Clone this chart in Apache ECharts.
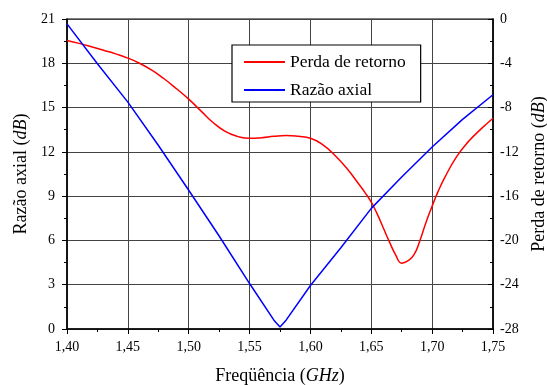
<!DOCTYPE html>
<html>
<head>
<meta charset="utf-8">
<script src="https://cdn.jsdelivr.net/npm/echarts@6/dist/echarts.min.js"></script>
<style>
html,body{margin:0;padding:0;background:#fff;}
#chart{width:547px;height:385px;}
</style>
</head>
<body>
<div id="chart"></div>
<script>
// Axial ratio (left axis, dB)
var freqAxial = [1.40, 1.425, 1.45, 1.475, 1.50, 1.525, 1.55, 1.57, 1.575, 1.58, 1.60, 1.625, 1.65, 1.675, 1.70, 1.725, 1.75];
var axialRatio = [20.67, 17.97, 15.37, 12.45, 9.4, 6.3, 3.08, 0.6, 0.14, 0.6, 2.95, 5.5, 8.17, 10.3, 12.33, 14.2, 15.87];

// Return loss (right axis, dB)
var freqReturn = [1.40, 1.41, 1.42, 1.43, 1.44, 1.45, 1.46, 1.47, 1.48, 1.49, 1.50, 1.51, 1.52, 1.53, 1.54, 1.55, 1.56, 1.57, 1.58, 1.59, 1.60, 1.61, 1.62, 1.63, 1.64, 1.645, 1.65, 1.655, 1.66, 1.665, 1.67, 1.675, 1.68, 1.685, 1.69, 1.695, 1.70, 1.705, 1.71, 1.72, 1.73, 1.74, 1.75];
var returnLoss = [-1.94, -2.2, -2.5, -2.82, -3.15, -3.53, -4.02, -4.65, -5.42, -6.3, -7.24, -8.3, -9.35, -10.15, -10.6, -10.78, -10.72, -10.6, -10.53, -10.6, -10.77, -11.35, -12.3, -13.5, -14.95, -15.7, -16.55, -17.65, -18.9, -20.15, -21.3, -22.05, -21.85, -21.3, -20.0, -18.35, -16.9, -15.55, -14.4, -12.45, -11.05, -9.95, -8.96];

var seriesNames = ['Perda de retorno', 'Razão axial'];
var xTitle = 'Freqüência';
var leftTitle = 'Razão axial';
var rightTitle = 'Perda de retorno';

function pairs(xs, ys) { return xs.map(function (x, i) { return [x, ys[i]]; }); }

var FONT = '"Liberation Serif", "Times New Roman", serif';
var chart = echarts.init(document.getElementById('chart'), null, {renderer: 'canvas'});

var titleRich = {
  n: {fontFamily: FONT, fontSize: 18, color: '#000'},
  i: {fontFamily: FONT, fontSize: 18, color: '#000', fontStyle: 'italic'}
};

chart.setOption({
  animation: false,
  backgroundColor: '#fff',
  textStyle: {fontFamily: FONT},
  grid: {left: 67, right: 54, top: 19, bottom: 56, containLabel: false, outerBoundsMode: 'none',
    show: true, borderColor: '#000', borderWidth: 1.2, backgroundColor: 'transparent'},
  legend: {
    orient: 'vertical',
    left: 232, top: 45,
    padding: [8, 15, 3, 11],
    itemGap: 10,
    itemWidth: 41, itemHeight: 14,
    borderColor: '#000', borderWidth: 1.2,
    backgroundColor: '#fff',
    itemStyle: {opacity: 0},
    textStyle: {fontFamily: FONT, fontSize: 17.5, lineHeight: 18, color: '#000'},
    data: seriesNames
  },
  xAxis: {
    type: 'value', min: 1.40, max: 1.75, interval: 0.05,
    name: '{n|' + xTitle + ' (}{i|GHz}{n|)}',
    nameLocation: 'middle', nameGap: 38,
    nameTextStyle: {rich: titleRich},
    axisLine: {show: true, lineStyle: {color: '#000', width: 1.5}},
    axisTick: {show: true, inside: false, length: 5, lineStyle: {color: '#000'}},
    minorTick: {show: true, splitNumber: 2, length: 3, lineStyle: {color: '#000'}},
    splitLine: {show: true, lineStyle: {color: '#444', width: 1}},
    axisLabel: {color: '#000', fontFamily: FONT, fontSize: 14, margin: 11,
      formatter: function (v) { return v.toFixed(2).replace('.', ','); }}
  },
  yAxis: [
    {
      type: 'value', min: 0, max: 21, interval: 3, position: 'left',
      name: '{n|' + leftTitle + ' (}{i|dB}{n|)}',
      nameLocation: 'middle', nameGap: 37, nameRotate: 90,
      nameTextStyle: {rich: titleRich},
      axisLine: {show: true, lineStyle: {color: '#000', width: 1.5}},
      axisTick: {show: true, inside: false, length: 5, lineStyle: {color: '#000'}},
      minorTick: {show: true, splitNumber: 2, length: 3, lineStyle: {color: '#000'}},
      splitLine: {show: true, lineStyle: {color: '#444', width: 1}},
      axisLabel: {color: '#000', fontFamily: FONT, fontSize: 14, margin: 12}
    },
    {
      type: 'value', min: -28, max: 0, interval: 4, position: 'right',
      name: '{n|' + rightTitle + ' (}{i|dB}{n|)}',
      nameLocation: 'middle', nameGap: 37, nameRotate: 90,
      nameTextStyle: {rich: titleRich},
      axisLine: {show: true, lineStyle: {color: '#000', width: 1.5}},
      axisTick: {show: true, inside: true, length: 5, lineStyle: {color: '#000'}},
      minorTick: {show: true, splitNumber: 2, length: 3, lineStyle: {color: '#000'}},
      splitLine: {show: false},
      axisLabel: {color: '#000', fontFamily: FONT, fontSize: 14, margin: 7}
    }
  ],
  series: [
    {
      name: seriesNames[0], type: 'line', yAxisIndex: 1,
      data: pairs(freqReturn, returnLoss),
      symbol: 'none', smooth: 0.5,
      lineStyle: {color: '#ff0000', width: 1.5}, itemStyle: {color: '#ff0000'}
    },
    {
      name: seriesNames[1], type: 'line', yAxisIndex: 0,
      data: pairs(freqAxial, axialRatio),
      symbol: 'none', smooth: false,
      lineStyle: {color: '#0000ff', width: 1.5}, itemStyle: {color: '#0000ff'}
    }
  ]
});
</script>
</body>
</html>
